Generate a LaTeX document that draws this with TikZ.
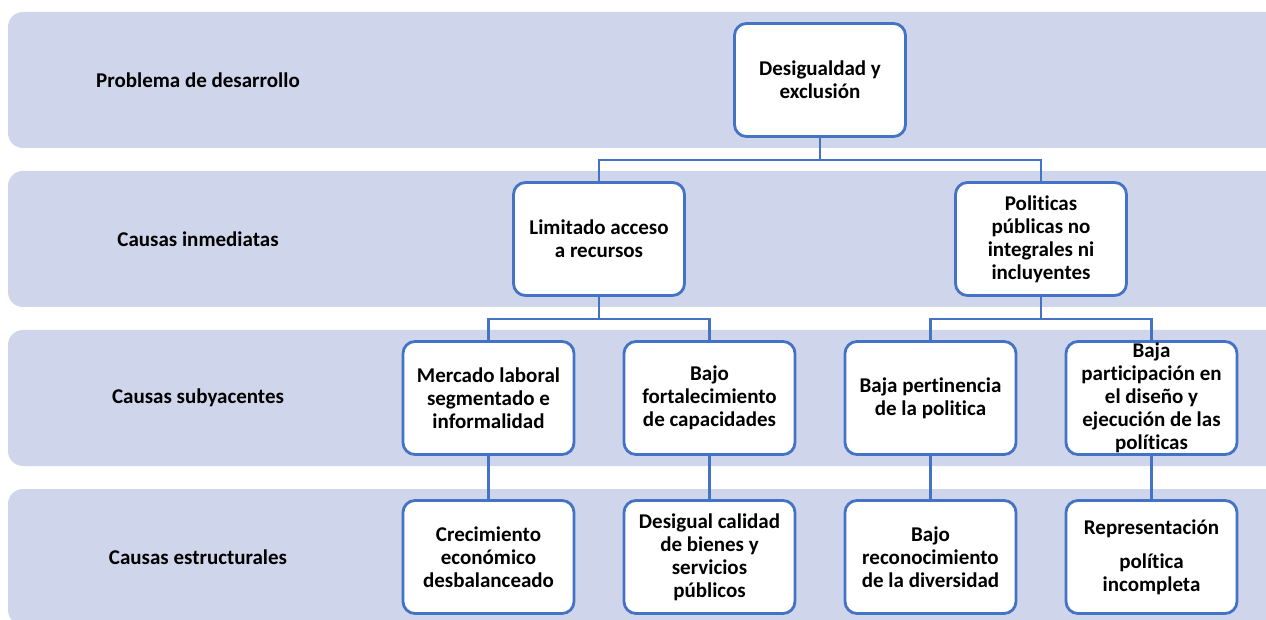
\documentclass[tikz,border=0pt]{standalone}
\usepackage{fontspec}
\setmainfont{Carlito}[Ligatures=NoCommon]
\usetikzlibrary{trees}
\definecolor{azul}{HTML}{4472C4}
\definecolor{lavanda}{HTML}{CFD5EA}
\tikzset{
  textonodo/.style = {align=center, inner sep=0pt, text centered,
    font=\bfseries\fontsize{21}{23}\selectfont},
  caja/.style = {textonodo, rectangle, rounded corners=12pt, draw=azul,
    line width=2.8pt, fill=white, minimum width=171pt, minimum height=113pt},
  banda/.style = {rectangle, rounded corners=15pt, fill=lavanda,
    minimum width=1282pt, minimum height=136pt},
  nivel/.style = {textonodo},
}

\begin{document}
\begin{tikzpicture}[x=1pt, y=1pt,
    edge from parent/.style={draw=azul, line width=2.5pt},
    edge from parent path={(\tikzparentnode.south) -- ++(0,-22) -| (\tikzchildnode.north)},
    level distance=159pt,
    level 1/.style={sibling distance=442pt},
    level 2/.style={sibling distance=221pt}]
  \useasboundingbox (0,0) rectangle (1266,619);
  % bandas de niveles
  \foreach \y/\nombre/\texto in {539/problema/Problema de desarrollo,
      380/inmediatas/Causas inmediatas, 221/subyacentes/Causas subyacentes,
      62/estructurales/Causas estructurales}{
    \node [banda] (banda\nombre) at (649,\y) {};
    \node [nivel] (nivel\nombre) at (198,\y) {\texto};
  }
  % arbol
  \node [caja] (desigualdad) at (820,539) {Desigualdad y\\exclusión}
      child{ node [caja] (acceso) {Limitado acceso\\a recursos}
          child{ node [caja] (mercado) {Mercado laboral\\segmentado e\\informalidad}
              child{ node [caja] (crecimiento) {Crecimiento\\económico\\desbalanceado}
              }
              }
          child{ node [caja] (capacidades) {Bajo\\fortalecimiento\\de capacidades}
              child{ node [caja] (calidad) {Desigual calidad\\de bienes y\\servicios\\públicos}
              }
              }
          }
      child{ node [caja] (politicas) {Politicas\\públicas no\\integrales ni\\incluyentes}
          child{ node [caja] (pertinencia) {Baja pertinencia\\de la politica}
              child{ node [caja] (diversidad) {Bajo\\reconocimiento\\de la diversidad}
              }
              }
          child{ node [caja] (participacion) {Baja\\participación en\\el diseño y\\ejecución de las\\políticas}
              child{ node [caja] (representacion) {Representación\\[11pt]política\\incompleta}
              }
              }
          }
  ;
\end{tikzpicture}
\end{document}
